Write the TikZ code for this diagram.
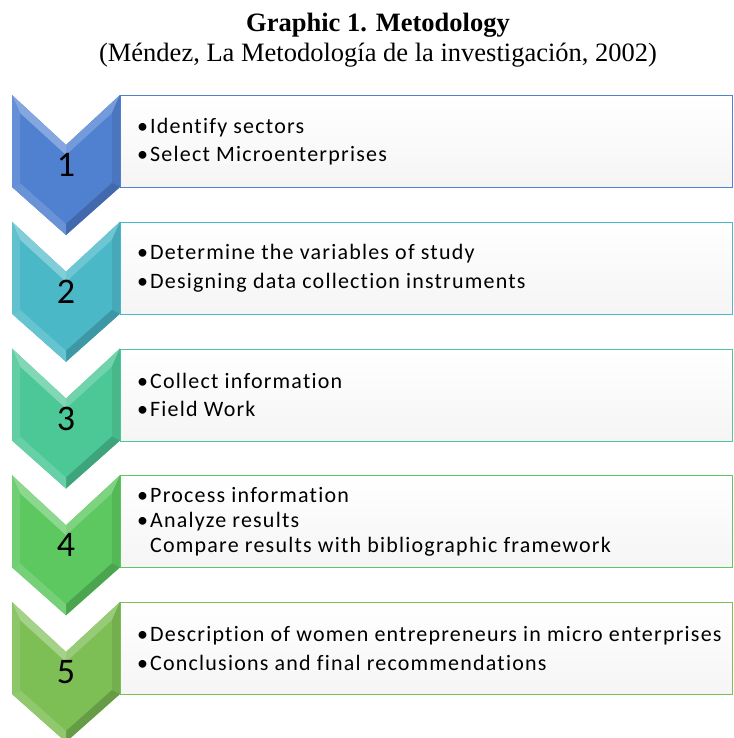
\documentclass[tikz,border=0pt]{standalone}
\usepackage{fontspec}
\setmainfont{Liberation Serif}
\newfontfamily\bodyfont[LetterSpace=5.5, Ligatures=NoCommon]{Carlito}
\usetikzlibrary{positioning}

\definecolor{stepA}{RGB}{80,128,208}
\definecolor{stepB}{RGB}{75,184,200}
\definecolor{stepC}{RGB}{76,200,150}
\definecolor{stepD}{RGB}{92,200,95}
\definecolor{stepE}{RGB}{125,190,85}

\newcommand{\itm}[1]{\makebox[13pt][l]{•}#1}

\tikzset{
  stepbox/.style={draw=#1, line width=1pt, top color=white, bottom color=black!4,
    minimum width=612pt, minimum height=92pt, anchor=north west, inner sep=0pt},
  steptext/.style={align=left, anchor=west, inner sep=0pt},
  stepnum/.style={font=\bodyfont\fontsize{36}{36}\selectfont, inner sep=0pt}
}

\begin{document}
\begin{tikzpicture}[x=1pt, y=-1pt]
    \useasboundingbox (0,0) rectangle (733,738);
    \fill[white] (0,0) rectangle (733,738);
    \clip (0,0) rectangle (733,738);

    \node[font=\bfseries\fontsize{26.5}{30}\selectfont, anchor=base] (title) at (378,32) {Graphic 1. Metodology};
    \node[font=\fontsize{26.5}{30}\selectfont, anchor=base] (source) at (378,62) {(Méndez, La Metodología de la investigación, 2002)};

    \foreach \n/\top/\col/\ls/\txt in {
        1/95/stepA/28.5/{\itm{Identify sectors}\\ \itm{Select Microenterprises}},
        2/221.75/stepB/28.5/{\itm{Determine the variables of study}\\ \itm{Designing data collection instruments}},
        3/348.5/stepC/28.5/{\itm{Collect information}\\ \itm{Field Work}},
        4/475.25/stepD/25/{\itm{Process information}\\ \itm{Analyze results}\\ \hspace*{13pt}Compare results with bibliographic framework},
        5/602/stepE/28.5/{\itm{Description of women entrepreneurs in micro enterprises}\\ \itm{Conclusions and final recommendations}}}
    {
        \begin{scope}[shift={(0,\top)}]
            \node[stepbox=\col] (box\n) at (120,0) {};
            % chevron with bevel
            \fill[\col] (12,0) -- (66,50) -- (120,0) -- (120,92) -- (66,140) -- (12,92) -- cycle;
            \fill[\col!70!white] (12,0) -- (66,50) -- (66,60) -- (20,18) -- cycle;
            \fill[\col!80!white] (66,50) -- (120,0) -- (112,18) -- (66,60) -- cycle;
            \fill[\col!92!black] (120,0) -- (120,92) -- (112,88) -- (112,18) -- cycle;
            \fill[\col!82!black] (120,92) -- (66,140) -- (66,129) -- (112,88) -- cycle;
            \fill[\col!85!white] (66,140) -- (12,92) -- (20,88) -- (66,129) -- cycle;
            \fill[\col!88!white] (12,92) -- (12,0) -- (20,18) -- (20,88) -- cycle;
            \node[stepnum] (num\n) at (66,70) {\n};
            \node[steptext, font=\bodyfont\fontsize{22}{\ls}\selectfont, right=17pt of box\n.west] (text\n) {\txt};
        \end{scope}
    }
\end{tikzpicture}
\end{document}
